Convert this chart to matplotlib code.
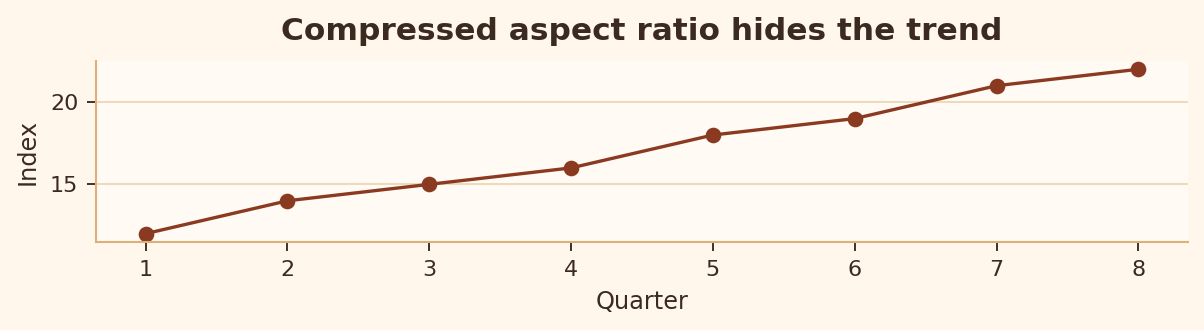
import matplotlib
matplotlib.use('Agg')
import matplotlib.pyplot as plt

quarters = [1, 2, 3, 4, 5, 6, 7, 8]
index_vals = [12, 14, 15, 16, 18, 19, 21, 22]

text_col = '#3b2a20'
line_col = '#8b3a22'

fig, ax = plt.subplots(figsize=(1204 / 150, 330 / 150), dpi=150)
fig.patch.set_facecolor('#fff7ec')
ax.set_facecolor('#fffaf3')

ax.plot(quarters, index_vals, color=line_col, linewidth=1.6, marker='o', markersize=6.5)

ax.set_title('Compressed aspect ratio hides the trend', fontsize=15, fontweight='bold',
             color=text_col, pad=10)
ax.set_xlabel('Quarter', fontsize=11.5, color=text_col, labelpad=5)
ax.set_ylabel('Index', fontsize=11.5, color=text_col, labelpad=5)
ax.set_xticks(quarters)
ax.set_yticks([15, 20])
ax.tick_params(labelsize=10.7, colors=text_col, length=4.5, width=0.9, pad=4)
ax.grid(axis='y', color='#ebd3ad', linewidth=0.8)
ax.set_axisbelow(True)
for s in ['top', 'right']:
    ax.spines[s].set_visible(False)
for s in ['left', 'bottom']:
    ax.spines[s].set_color('#ddb07a')
    ax.spines[s].set_linewidth(1.0)

fig.subplots_adjust(left=0.0797, right=0.9867, top=0.815, bottom=0.267)
fig.savefig('out.png', facecolor=fig.get_facecolor())
